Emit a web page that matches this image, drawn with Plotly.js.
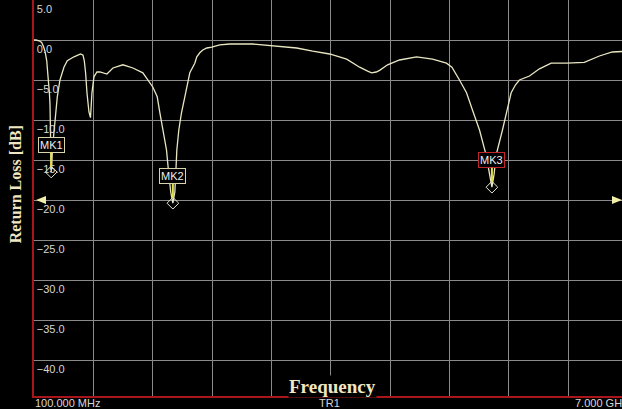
<!DOCTYPE html>
<html>
<head>
<meta charset="utf-8">
<script src="https://cdn.plot.ly/plotly-3.0.1.min.js"></script>
<style>
  html, body { margin: 0; padding: 0; background: #000; }
  #chart { width: 622px; height: 409px; }
</style>
</head>
<body>
<div id="chart"></div>
<script>
// Sweep of the antenna return loss, frequency in MHz, level in dB
const freqMHz = [
  100, 123, 160, 189, 210, 228, 248, 266, 280, 286, 292, 296, 300, 306, 315, 328,
  340, 352, 371, 402, 448, 487, 530, 565, 642, 670, 685, 700, 716, 739, 757, 774,
  797, 832, 867, 948, 1018, 1134, 1250, 1366, 1483, 1533, 1564, 1602, 1641, 1660,
  1690, 1715, 1738, 1752, 1761, 1784, 1815, 1854, 1877, 1912, 1970, 1993, 2028,
  2063, 2110, 2168, 2260, 2377, 2644, 2865, 3155, 3341, 3538, 3736, 3887, 3980,
  4026, 4080, 4119, 4212, 4351, 4549, 4735, 4897, 4960, 5048, 5130, 5199, 5281,
  5358, 5400, 5425, 5450, 5474, 5548, 5606, 5649, 5700, 5745, 5862, 5978, 6114,
  6291, 6500, 6675, 6826, 6930, 7000
];
const returnLossDb = [
  0.0, 0.0, -0.1, -0.3, -0.8, -1.4, -2.6, -4.6, -6.8, -8.0, -11.0, -14.0, -16.5, -15.5, -13.5, -12.0,
  -11.0, -9.1, -7.1, -5.0, -3.4, -2.6, -2.3, -2.1, -1.75, -1.9, -2.6, -4.1, -6.6, -9.0, -9.7, -6.6,
  -4.6, -4.0, -4.0, -4.25, -3.5, -3.1, -3.5, -4.1, -5.9, -7.1, -9.1, -11.25, -13.75, -15.9,
  -19.0, -20.4, -19.0, -15.9, -13.75, -11.25, -9.1, -7.1, -5.9, -4.1, -2.9, -2.1, -1.6,
  -1.25, -1.0, -0.9, -0.6, -0.5, -0.5, -0.75, -1.0, -1.4, -1.75, -2.4, -3.4, -3.9,
  -4.1, -4.0, -3.8, -3.1, -2.5, -2.1, -2.4, -2.9, -3.4, -5.0, -6.6, -8.75, -11.25,
  -14.4, -16.8, -18.4, -16.8, -14.4, -11.25, -8.75, -6.6, -5.6, -5.0, -4.5, -3.6, -2.9,
  -2.9, -2.8, -2.0, -1.5, -1.45, -1.4
];

// Analyzer markers placed on the resonances
const markerNames = ['MK1', 'MK2', 'MK3'];
const markerFreqMHz = [300, 1715, 5425];
const markerDb = [-16.5, -20.4, -18.4];
const markerBorders = ['#d6d4a8', '#d6d4a8', '#c0262b'];

// Reference level shown by the side arrows
const refLevelDb = -20;

// Axis setup: 10 divisions of 690 MHz from 100 MHz, 5 dB per division
const startMHz = 100;
const divMHz = 690;
const xVisibleEnd = 6938;
const yTop = 5;
const yBottom = -44.5;
const yTickVals = [5, 0, -5, -10, -15, -20, -25, -30, -35, -40];
const yTickText = yTickVals.map(v => (v < 0 ? '\u2212' + Math.abs(v).toFixed(1) : v.toFixed(1)));

const frameRed = '#a8161c';
const gridGray = '#8a8a8a';
const cream = '#efe6c2';

const traces = [
  {
    x: freqMHz,
    y: returnLossDb,
    type: 'scatter',
    mode: 'lines',
    line: { color: '#e9e7c2', width: 1.3 },
    hoverinfo: 'skip'
  },
  {
    x: markerFreqMHz,
    y: markerDb,
    type: 'scatter',
    mode: 'markers',
    marker: { symbol: 'diamond-open', size: 9, color: '#e8e8d6', line: { width: 1 } },
    hoverinfo: 'skip'
  }
];

const annotations = [
  {
    text: 'Return Loss [dB]', textangle: -90,
    xref: 'paper', x: -0.032, xanchor: 'center',
    yref: 'paper', y: 0.535, yanchor: 'middle',
    showarrow: false,
    font: { family: 'Liberation Serif, Times New Roman, serif', size: 16, weight: 'bold', color: cream }
  },
  {
    text: 'Frequency',
    xref: 'paper', x: 0.507, xanchor: 'center',
    yref: 'paper', y: 0.025, yanchor: 'middle',
    showarrow: false, bgcolor: '#000', borderpad: 0,
    font: { family: 'Liberation Serif, Times New Roman, serif', size: 19, weight: 'bold', color: cream }
  },
  {
    text: '100.000 MHz',
    xref: 'paper', x: 0, xanchor: 'left',
    yref: 'paper', y: 0, yanchor: 'top',
    showarrow: false, borderpad: 0,
    font: { family: 'Liberation Sans, Arial, sans-serif', size: 11, color: '#d8d8d8' }
  },
  {
    text: 'TR1',
    xref: 'paper', x: 0.502, xanchor: 'center',
    yref: 'paper', y: 0, yanchor: 'top',
    showarrow: false, borderpad: 0,
    font: { family: 'Liberation Sans, Arial, sans-serif', size: 11, color: '#d8d8d8' }
  },
  {
    text: '7.000 GHz',
    xref: 'paper', x: 1, xanchor: 'right', xshift: 7,
    yref: 'paper', y: 0, yanchor: 'top',
    showarrow: false, borderpad: 0,
    font: { family: 'Liberation Sans, Arial, sans-serif', size: 11, color: '#d8d8d8' }
  }
];

markerNames.forEach((name, i) => {
  annotations.push({
    text: name,
    xref: 'x', x: markerFreqMHz[i],
    yref: 'y', y: markerDb[i],
    showarrow: true, ax: 0, ay: -27,
    arrowhead: 0, arrowwidth: 2, arrowcolor: '#e4e24c', standoff: 5,
    bgcolor: '#000', bordercolor: markerBorders[i], borderwidth: 1, borderpad: 1,
    font: { family: 'Liberation Sans, Arial, sans-serif', size: 11, color: '#eeeeee' }
  });
});

// Reference level arrows at both edges of the grid
const shapes = [
  {
    type: 'path', layer: 'above',
    xref: 'paper', xsizemode: 'pixel', xanchor: 0,
    yref: 'y', ysizemode: 'pixel', yanchor: refLevelDb,
    path: 'M 2 0 L 12 4 L 12 -4 Z',
    fillcolor: '#f2f0a8', line: { width: 0 }
  },
  {
    type: 'path', layer: 'above',
    xref: 'paper', xsizemode: 'pixel', xanchor: 1,
    yref: 'y', ysizemode: 'pixel', yanchor: refLevelDb,
    path: 'M 0 0 L -10 4 L -10 -4 Z',
    fillcolor: '#f2f0a8', line: { width: 0 }
  }
];

const layout = {
  width: 622,
  height: 409,
  margin: { l: 34, r: 0, t: 0, b: 13, pad: 0 },
  paper_bgcolor: '#000',
  plot_bgcolor: '#000',
  showlegend: false,
  xaxis: {
    range: [startMHz, xVisibleEnd],
    tick0: startMHz, dtick: divMHz,
    showticklabels: false, ticks: '',
    showgrid: true, gridcolor: gridGray, gridwidth: 1,
    zeroline: false,
    showline: true, linecolor: frameRed, linewidth: 2
  },
  yaxis: {
    range: [yBottom, yTop],
    tickmode: 'array', tickvals: yTickVals, ticktext: yTickText,
    ticks: '',
    ticklabelposition: 'inside',
    ticklabelshift: 9,
    ticklabelstandoff: 2,
    ticklabeloverflow: 'allow',
    tickfont: { family: 'Liberation Sans, Arial, sans-serif', size: 11, color: '#d6d6d6' },
    showgrid: true, gridcolor: gridGray, gridwidth: 1,
    zeroline: false,
    showline: true, linecolor: frameRed, linewidth: 2
  },
  annotations: annotations,
  shapes: shapes
};

Plotly.newPlot('chart', traces, layout, { staticPlot: true, displayModeBar: false });
</script>
</body>
</html>
